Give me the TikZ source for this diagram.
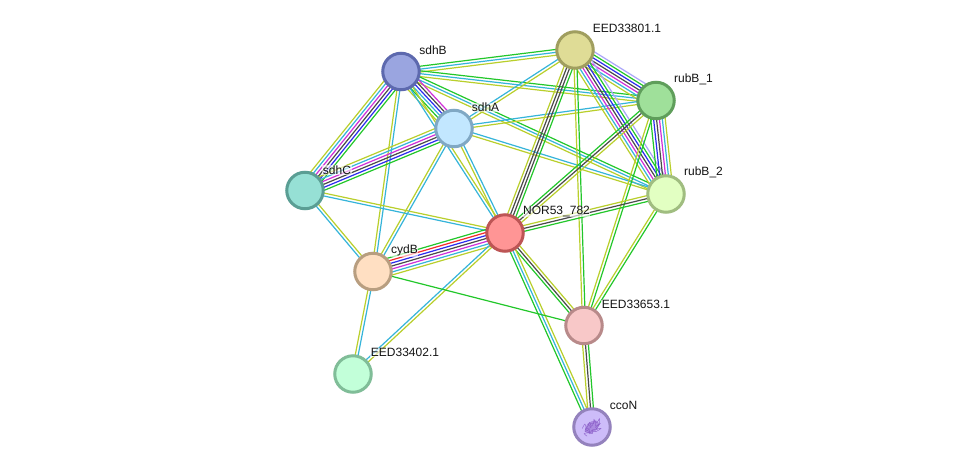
\documentclass[tikz,border=0pt]{standalone}
\usepackage{fontspec}
\setmainfont{Liberation Sans}
\usetikzlibrary{calc,backgrounds}

% Evidence channel colours
\definecolor{cg}{HTML}{22C72A}
\definecolor{cc}{HTML}{35B4DA}
\definecolor{cy}{HTML}{B9CF2B}
\definecolor{ck}{HTML}{4A4A4A}
\definecolor{cb}{HTML}{2B2BEE}
\definecolor{cm}{HTML}{D02FD8}
\definecolor{cr}{HTML}{F52A2A}
\definecolor{cl}{HTML}{ABA6FA}

% Protein fill and rim colours
\definecolor{fsdhB}{HTML}{9AA5E0}\definecolor{rsdhB}{HTML}{5D69AE}
\definecolor{feedA}{HTML}{DFDC96}\definecolor{reedA}{HTML}{A09E5F}
\definecolor{frubA}{HTML}{9FE09A}\definecolor{rrubA}{HTML}{5F9E5B}
\definecolor{frubB}{HTML}{E2FFC2}\definecolor{rrubB}{HTML}{A0BD80}
\definecolor{fsdhA}{HTML}{C2E7FF}\definecolor{rsdhA}{HTML}{80A8C4}
\definecolor{fsdhC}{HTML}{96E0D5}\definecolor{rsdhC}{HTML}{5A9E94}
\definecolor{fnor}{HTML}{FF9595}\definecolor{rnor}{HTML}{BD5555}
\definecolor{fcydB}{HTML}{FFDFC2}\definecolor{rcydB}{HTML}{B89E80}
\definecolor{feedB}{HTML}{F8C8C8}\definecolor{reedB}{HTML}{B88A8A}
\definecolor{feedC}{HTML}{C2FFD9}\definecolor{reedC}{HTML}{80BD98}
\definecolor{fcco}{HTML}{CDBCF9}\definecolor{rcco}{HTML}{9482BD}
\definecolor{fold}{HTML}{8A5CC8}

\tikzset{
  prot/.style={circle,minimum size=36.5pt,inner sep=0pt,line width=3pt,fill=f#1,draw=r#1},
  plabel/.style={anchor=center,font=\fontsize{12}{12}\selectfont,inner sep=0.5pt,
    fill=white,fill opacity=0.6,text opacity=1,text=black!92},
  chan/.style={line width=1.2pt}
}

% Parallel evidence lines between two proteins; colours run from the left of a->b to its right
\newcommand{\bundle}[3]{%
  \foreach \c [count=\i] in {#3}{\global\let\nlines\i}%
  \foreach \c [count=\i] in {#3}{%
    \pgfmathsetmacro{\off}{((\nlines+1)/2-\i)*2.9}%
    \draw[chan,draw=\c] ($(#1)!\off pt!90:(#2)$) -- ($(#2)!\off pt!-90:(#1)$);%
  }%
}

\begin{document}
\begin{tikzpicture}[x=1pt,y=-1pt]
\useasboundingbox (0,0) rectangle (975,472);

% Proteins
\node[prot=sdhB] (sdhB) at (401,71.5) {};
\node[prot=eedA] (eedA) at (575,50) {};
\node[prot=rubA] (rubA) at (656,100.5) {};
\node[prot=rubB] (rubB) at (666,194) {};
\node[prot=sdhA] (sdhA) at (454,128.5) {};
\node[prot=sdhC] (sdhC) at (305,190.5) {};
\node[prot=nor]  (nor)  at (505,233) {};
\node[prot=cydB] (cydB) at (373,271.5) {};
\node[prot=eedB] (eedB) at (584,325.5) {};
\node[prot=eedC] (eedC) at (353,374) {};
\node[prot=cco]  (cco)  at (592,427) {};

% Structure sketch inside ccoN
\begin{scope}[shift={(cco)},rotate=40,yscale=.85,line width=0.5pt]
  \fill[fold,opacity=.5] (0,0) ellipse (8pt and 6pt);
  \foreach \r in {0,1}{
    \draw[fold,opacity=.85,xscale=1.2,rotate=70*\r] plot[smooth] coordinates
      {(-7,-6) (-3,-8) (-4,-3) (1,-6) (0,-1) (5,-3) (3,2) (7,3) (2,5) (5,8) (0,7) (-2,3) (-5,4) (-3,0) (-7,-1) (-4,-4)};
  }
\end{scope}

% Interaction edges, behind the proteins
\begin{pgfonlayer}{background}
  \fill[white] (0,0) rectangle (975,472);
  \bundle{sdhB}{eedA}{cg,cc,cy}
  \bundle{sdhB}{rubA}{cg,cc,cy}
  \bundle{sdhB}{rubB}{cg,cc,cy}
  \bundle{sdhB}{sdhA}{cm,ck,cb,cc,cg,cy}
  \bundle{sdhC}{sdhB}{cy,cc,cm,ck,cb,cg}
  \bundle{sdhB}{cydB}{cc,cy}
  \bundle{sdhB}{nor}{cy,cc}
  \bundle{sdhA}{eedA}{cc,cy}
  \bundle{sdhA}{rubA}{cc,cy}
  \bundle{sdhA}{rubB}{cc,cy}
  \bundle{sdhC}{sdhA}{cy,cc,cm,ck,cb,cg}
  \bundle{cydB}{sdhA}{cy,cc}
  \bundle{sdhA}{nor}{cc,cy}
  \bundle{sdhC}{nor}{cy,cc}
  \bundle{sdhC}{cydB}{cy,cc}
  \bundle{eedA}{rubA}{cl,cg,cb,ck,cm,cc,cy}
  \bundle{eedA}{rubB}{cl,cg,cb,ck,cm,cc,cy}
  \bundle{nor}{eedA}{cy,ck,ck,cg}
  \bundle{eedA}{eedB}{cg,cy}
  \bundle{rubA}{rubB}{cy,cc,cm,ck,cb,cg}
  \bundle{nor}{rubA}{cg,ck,cy}
  \bundle{eedB}{rubA}{cy,cg}
  \bundle{nor}{rubB}{cy,ck,cg}
  \bundle{eedB}{rubB}{cy,cg}
  \bundle{cydB}{nor}{cg,cr,cb,ck,cm,cc,cy}
  \bundle{nor}{eedB}{cy,ck,cg}
  \bundle{nor}{cco}{cy,cc,cg}
  \bundle{eedC}{nor}{cc,cy}
  \bundle{eedC}{cydB}{cy,cc}
  \bundle{cydB}{eedB}{cg}
  \bundle{eedB}{cco}{cg,ck,cy}
\end{pgfonlayer}

% Protein names
\node[plabel] (lsdhB) at (433,50.5) {sdhB};
\node[plabel] (leedA) at (627,28.5) {EED33801.1};
\node[plabel] (lrubA) at (693.5,79.5) {rubB\_1};
\node[plabel] (lrubB) at (703.5,172.5) {rubB\_2};
\node[plabel] (lsdhA) at (485.5,107.5) {sdhA};
\node[plabel] (lsdhC) at (337,170) {sdhC};
\node[plabel] (lnor)  at (556.5,211.5) {NOR53\_782};
\node[plabel] (lcydB) at (404.5,250.5) {cydB};
\node[plabel] (leedB) at (636,304.5) {EED33653.1};
\node[plabel] (leedC) at (405,352.5) {EED33402.1};
\node[plabel] (lcco)  at (623.5,405.5) {ccoN};
\end{tikzpicture}
\end{document}
